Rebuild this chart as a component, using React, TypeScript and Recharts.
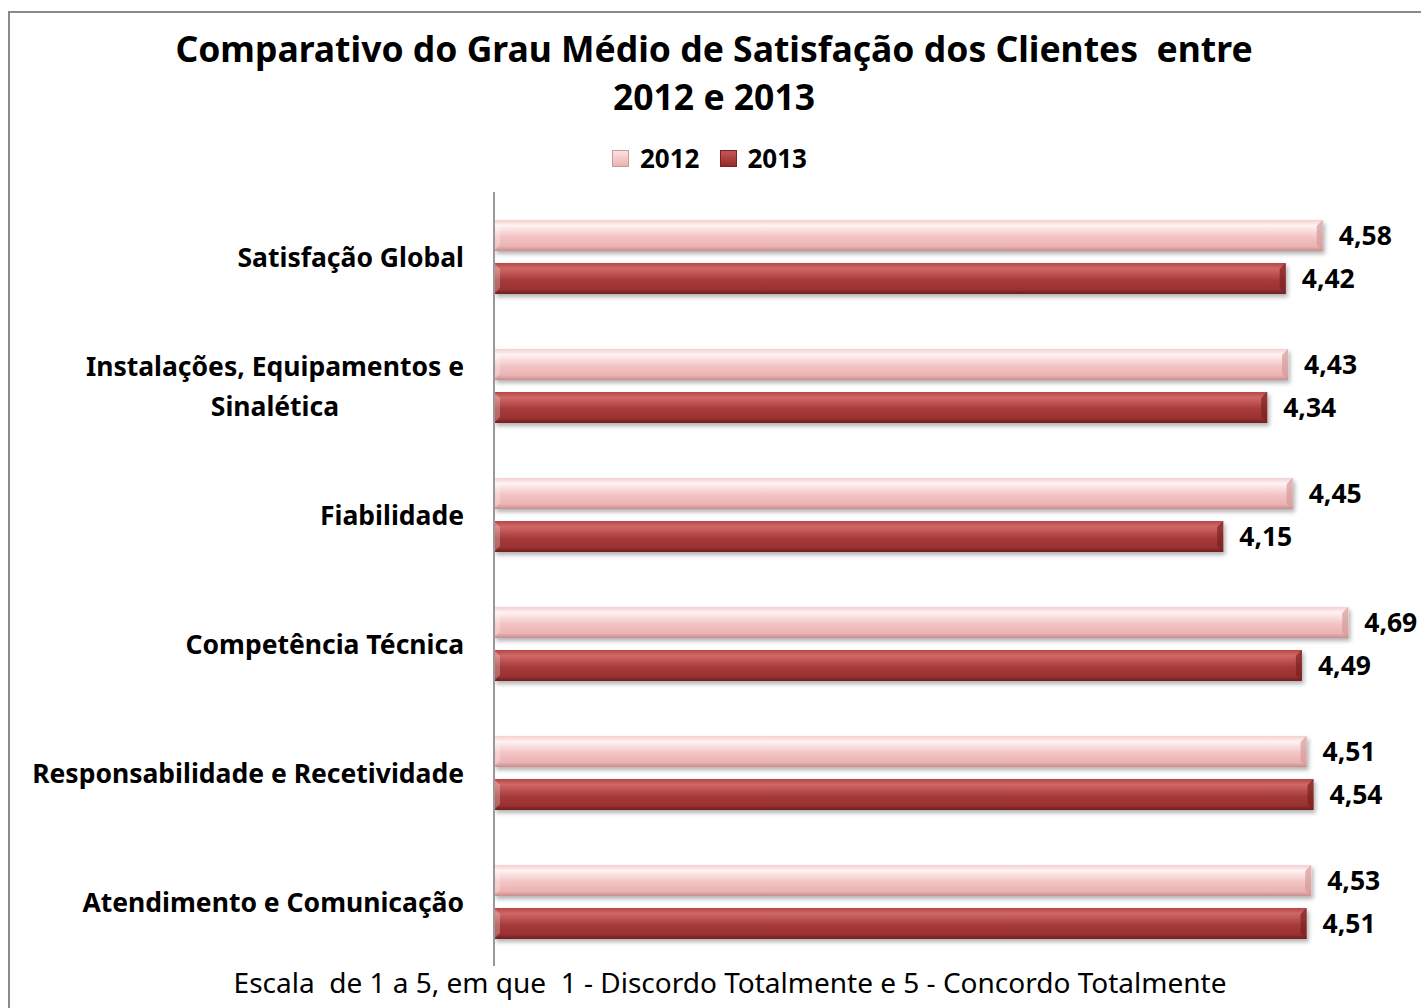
import React from "react";
import { BarChart, Bar, XAxis, YAxis, LabelList } from "recharts";

const categories = [
  "Satisfação Global",
  "Instalações, Equipamentos e\nSinalética",
  "Fiabilidade",
  "Competência Técnica",
  "Responsabilidade e Recetividade",
  "Atendimento e Comunicação",
];
const values2012 = [4.58, 4.43, 4.45, 4.69, 4.51, 4.53];
const values2013 = [4.42, 4.34, 4.15, 4.49, 4.54, 4.51];
const seriesNames = ["2012", "2013"];

const data = categories.map((c, i) => ({
  name: c,
  y2012: values2012[i],
  y2013: values2013[i],
}));

const FONT = "'Noto Sans', sans-serif";

let ctx: CanvasRenderingContext2D | null = null;
function measure(text: string, font: string) {
  if (!ctx) ctx = document.createElement("canvas").getContext("2d");
  if (!ctx) return text.length * 15;
  ctx.font = font;
  return ctx.measureText(text).width;
}

function CategoryTick({ x, y, payload }: any) {
  const lines = String(payload.value).split("\n");
  const font = `bold 26.5px ${FONT}`;
  const right = x - 22;
  const lh = 40;
  const y0 = y - ((lines.length - 1) * lh) / 2;
  if (lines.length === 1) {
    return (
      <text x={right} y={y} textAnchor="end" dominantBaseline="central"
        style={{ font, fill: "#000" }}>
        {lines[0]}
      </text>
    );
  }
  const w = Math.max(...lines.map((l) => measure(l, font)));
  return (
    <g>
      {lines.map((l, i) => (
        <text key={i} x={right - w / 2} y={y0 + i * lh} textAnchor="middle"
          dominantBaseline="central" style={{ font, fill: "#000" }}>
          {l}
        </text>
      ))}
    </g>
  );
}

function BevelBar({ x, y, width, height, light }: any) {
  if (!width || width <= 0) return null;
  const g = light ? "grad2012" : "grad2013";
  const edge = light ? "#d49a9a" : "#7a2222";
  const b = 6;
  return (
    <g filter="url(#barShadow)">
      <rect x={x} y={y} width={width} height={height} fill={`url(#${g})`} />
      <polygon
        points={`${x + width - b},${y + b} ${x + width},${y} ${x + width},${y + height} ${x + width - b},${y + height - b}`}
        fill={edge} opacity={0.7}
      />
      <polygon
        points={`${x},${y} ${x + b},${y + b} ${x + b},${y + height - b} ${x},${y + height}`}
        fill="#fff" opacity={0.25}
      />
    </g>
  );
}

const fmt = (v: any) => Number(v).toFixed(2).replace(".", ",");
const labelStyle = { fontFamily: FONT, fontWeight: 700, fontSize: 26.5, fill: "#000" };

export default function App() {
  return (
    <div style={{ position: "absolute", left: 0, top: 0, width: 1421, height: 1008, overflow: "hidden", background: "#fff", fontFamily: FONT }}>
      <div style={{ position: "absolute", left: 8, top: 11, width: 1500, height: 1100, border: "2px solid #8a8a8a", boxSizing: "border-box" }} />
      <div style={{ position: "absolute", left: 0, top: 24, width: 1428, textAlign: "center", fontWeight: 700, fontSize: 35.5, lineHeight: "48px", color: "#000", whiteSpace: "pre" }}>
        <div>Comparativo do Grau Médio de Satisfação dos Clientes  entre</div>
        <div>2012 e 2013</div>
      </div>
      <div style={{ position: "absolute", left: 612, top: 140, display: "flex", alignItems: "center", fontWeight: 700, fontSize: 26, color: "#000" }}>
        <span style={{ display: "inline-block", width: 15, height: 15, background: "linear-gradient(#fbe2e2,#eab3b3)", border: "1px solid #c99", marginRight: 11 }} />
        <span style={{ marginRight: 20 }}>{seriesNames[0]}</span>
        <span style={{ display: "inline-block", width: 15, height: 15, background: "linear-gradient(#c65555,#922c2c)", border: "1px solid #7a2222", marginRight: 11 }} />
        <span>{seriesNames[1]}</span>
      </div>
      <div style={{ position: "absolute", left: 0, top: 963, width: 1460, textAlign: "center", fontSize: 28, color: "#000", whiteSpace: "pre" }}>
        Escala  de 1 a 5, em que  1 - Discordo Totalmente e 5 - Concordo Totalmente
      </div>
      <div style={{ position: "absolute", left: 0, top: 0 }}>
        <BarChart
          width={1421}
          height={1008}
          data={data}
          layout="vertical"
          margin={{ top: 192, right: 1, bottom: 42, left: 0 }}
          barCategoryGap={26}
          barGap={12}
        >
          <defs>
            <linearGradient id="grad2012" x1="0" y1="0" x2="0" y2="1">
              <stop offset="0%" stopColor="#f5cfcf" />
              <stop offset="18%" stopColor="#fff2f2" />
              <stop offset="55%" stopColor="#f3c3c3" />
              <stop offset="85%" stopColor="#ebb3b3" />
              <stop offset="100%" stopColor="#c98d8d" />
            </linearGradient>
            <linearGradient id="grad2013" x1="0" y1="0" x2="0" y2="1">
              <stop offset="0%" stopColor="#b54646" />
              <stop offset="18%" stopColor="#d06868" />
              <stop offset="55%" stopColor="#a83a3a" />
              <stop offset="85%" stopColor="#9a3232" />
              <stop offset="100%" stopColor="#6e1e1e" />
            </linearGradient>
            <filter id="barShadow" x="-5%" y="-20%" width="110%" height="160%">
              <feDropShadow dx="2" dy="3" stdDeviation="2" floodColor="#000" floodOpacity="0.3" />
            </filter>
          </defs>
          <XAxis type="number" domain={[1, 5]} hide allowDataOverflow />
          <YAxis
            type="category"
            dataKey="name"
            width={494}
            axisLine={{ stroke: "#999", strokeWidth: 2 }}
            tickLine={false}
            tick={<CategoryTick />}
            interval={0}
          />
          <Bar dataKey="y2012" barSize={31} isAnimationActive={false} shape={(p: any) => <BevelBar {...p} light />}>
            <LabelList dataKey="y2012" position="right" offset={16} formatter={fmt} style={labelStyle} />
          </Bar>
          <Bar dataKey="y2013" barSize={31} isAnimationActive={false} shape={(p: any) => <BevelBar {...p} />}>
            <LabelList dataKey="y2013" position="right" offset={16} formatter={fmt} style={labelStyle} />
          </Bar>
        </BarChart>
      </div>
    </div>
  );
}
